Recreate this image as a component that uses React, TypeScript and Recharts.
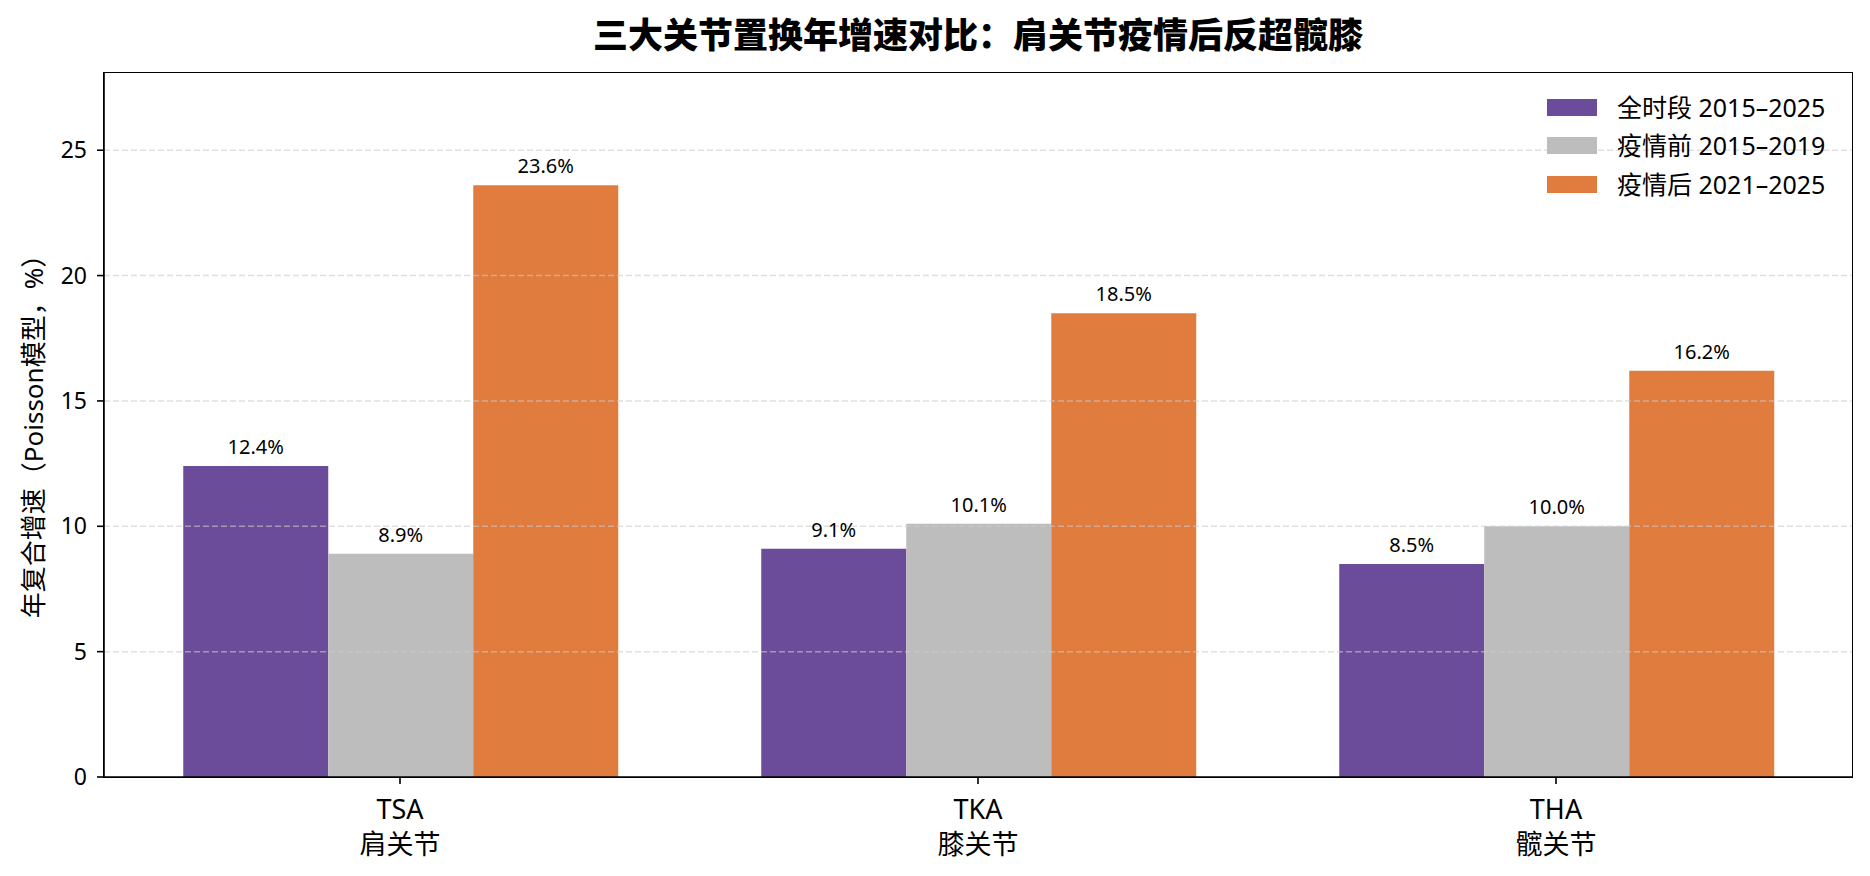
import React from 'react';
import { BarChart, Bar, XAxis, YAxis, ReferenceLine, LabelList, Legend } from 'recharts';

const categories = ['TSA', 'TKA', 'THA'];
const categoryNames = ['肩关节', '膝关节', '髋关节'];
const allPeriod = [12.4, 9.1, 8.5];
const prePandemic = [8.9, 10.1, 10.0];
const postPandemic = [23.6, 18.5, 16.2];
const seriesKeys = ['all', 'pre', 'post'];
const seriesNames = ['全时段 2015–2025', '疫情前 2015–2019', '疫情后 2021–2025'];
const seriesColors = ['#6b4c9a', '#bdbdbd', '#e07c3e'];
const yTicks = [0, 5, 10, 15, 20, 25];
const yMax = 28.08;
const titleText = '三大关节置换年增速对比：肩关节疫情后反超髋膝';
const yLabelText = '年复合增速（Poisson模型，%）';

const FONT = "'Noto Sans', 'Noto Sans CJK SC', sans-serif";

const data = categories.map((c, i) => ({
  code: c,
  all: allPeriod[i],
  pre: prePandemic[i],
  post: postPandemic[i],
}));

const XTick = (props: any) => {
  const { x, y, payload } = props;
  const idx = categories.indexOf(payload.value);
  return (
    <g>
      <text x={x} y={y + 22} textAnchor="middle" dominantBaseline="central" fontSize={27} fill="#000" fontFamily={FONT}>
        {payload.value}
      </text>
      <text x={x} y={y + 57} textAnchor="middle" dominantBaseline="central" fontSize={27} fill="#000" fontFamily={FONT}>
        {categoryNames[idx]}
      </text>
    </g>
  );
};

const LegendContent = () => (
  <div style={{ fontFamily: FONT }}>
    {seriesNames.map((n, i) => (
      <div key={n} style={{ display: 'flex', alignItems: 'center', height: 38.5 }}>
        <div style={{ width: 50, height: 17, background: seriesColors[i], marginRight: 20 }} />
        <span style={{ fontSize: 25, color: '#000', lineHeight: 1, whiteSpace: 'nowrap' }}>{n}</span>
      </div>
    ))}
  </div>
);

const fmt = (v: any) => Number(v).toFixed(1) + '%';

export default function App() {
  const axisStyle = { stroke: '#000', strokeWidth: 1.6 };
  return (
    <div style={{ position: 'absolute', left: 0, top: 0, width: 1870, height: 876, background: '#fff' }}>
      <BarChart
        width={1870}
        height={876}
        data={data}
        margin={{ top: 73, right: 18, bottom: 0, left: 34 }}
        barCategoryGap="12.5%"
        barGap={0}
      >
        <XAxis
          dataKey="code"
          height={99}
          padding={{ left: 7, right: 7 }}
          tickSize={7}
          tickLine={axisStyle}
          axisLine={axisStyle}
          tick={<XTick />}
          interval={0}
        />
        <YAxis
          type="number"
          domain={[0, yMax]}
          ticks={yTicks}
          allowDataOverflow
          width={70}
          tickSize={7}
          tickMargin={10}
          tickLine={axisStyle}
          axisLine={axisStyle}
          tick={{ fontSize: 23, fill: '#000', fontFamily: FONT }}
        />
        {seriesKeys.map((k, i) => (
          <Bar key={k} dataKey={k} name={seriesNames[i]} fill={seriesColors[i]} isAnimationActive={false}>
            <LabelList
              dataKey={k}
              position="top"
              offset={12}
              formatter={fmt}
              style={{ fontSize: 20, fill: '#000', fontFamily: FONT }}
            />
          </Bar>
        ))}
        {yTicks.filter((t) => t > 0).map((t) => (
          <ReferenceLine
            key={t}
            y={t}
            stroke="#cccccc"
            strokeOpacity={0.6}
            strokeWidth={1.5}
            strokeDasharray="6 3"
          />
        ))}
        <Legend
          layout="vertical"
          align="center"
          verticalAlign="middle"
          wrapperStyle={{ position: 'absolute', left: 1547, top: 88, width: 320, height: 116 }}
          content={<LegendContent />}
        />
      </BarChart>
      <div
        style={{
          position: 'absolute',
          left: 103.2,
          top: 72.2,
          width: 1749.6,
          height: 705.6,
          border: '1.6px solid #000',
          boxSizing: 'border-box',
          pointerEvents: 'none',
        }}
      />
      <div
        style={{
          position: 'absolute',
          left: 104,
          width: 1748,
          top: 15,
          textAlign: 'center',
          fontFamily: "'Noto Sans CJK SC', sans-serif",
          fontWeight: 900,
          fontSize: 35,
          lineHeight: '35px',
          color: '#000',
          whiteSpace: 'nowrap',
        }}
      >
        {titleText}
      </div>
      <div
        style={{
          position: 'absolute',
          left: 33,
          top: 430,
          transform: 'translate(-50%, -50%) rotate(-90deg)',
          fontFamily: FONT,
          fontSize: 26,
          lineHeight: '26px',
          color: '#000',
          whiteSpace: 'nowrap',
        }}
      >
        {yLabelText}
      </div>
    </div>
  );
}
